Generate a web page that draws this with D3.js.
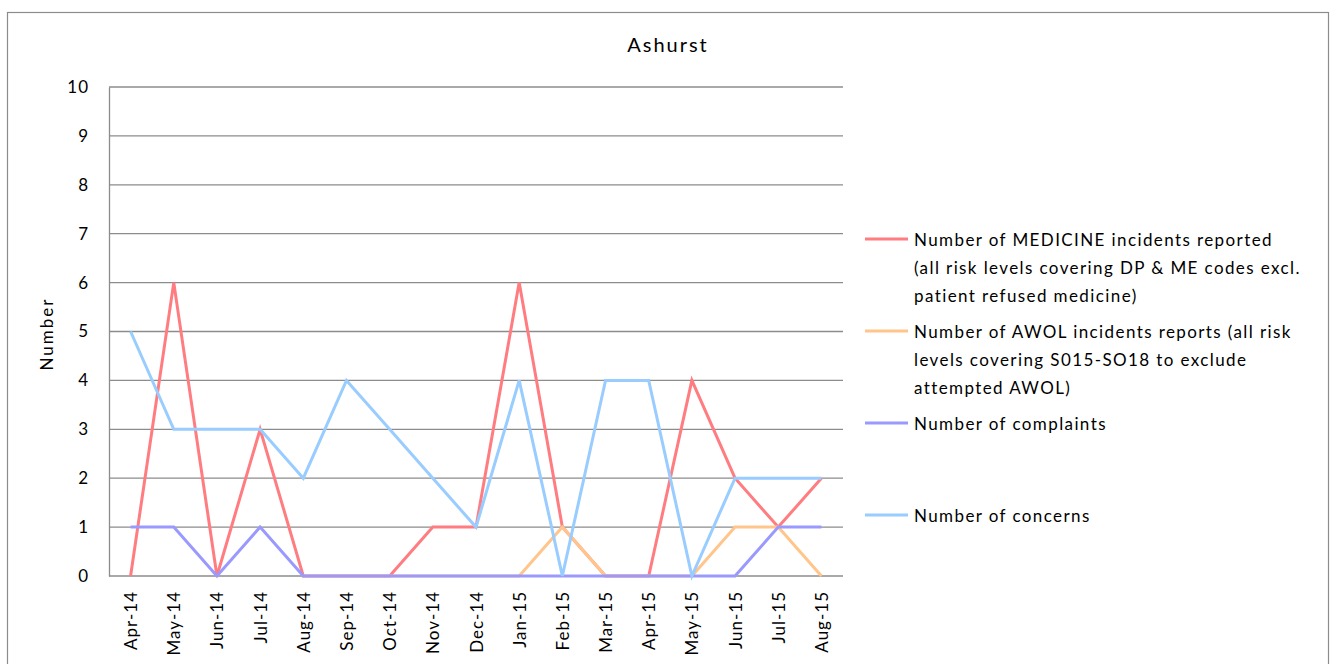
<!DOCTYPE html>
<html>
<head>
<meta charset="utf-8">
<script src="https://cdn.jsdelivr.net/npm/d3@7"></script>
<style>
  body { margin: 0; background: #fff; }
  svg { font-family: Lato, "Open Sans", sans-serif; }
</style>
</head>
<body>
<div id="chart"></div>
<script>
// Data
const months = ['Apr-14', 'May-14', 'Jun-14', 'Jul-14', 'Aug-14', 'Sep-14', 'Oct-14', 'Nov-14', 'Dec-14',
  'Jan-15', 'Feb-15', 'Mar-15', 'Apr-15', 'May-15', 'Jun-15', 'Jul-15', 'Aug-15'];
const medicine = [0, 6, 0, 3, 0, 0, 0, 1, 1, 6, 1, 0, 0, 4, 2, 1, 2];
// no AWOL line is drawn for the first months
const awol = [null, null, null, null, 0, 0, 0, 0, 0, 0, 1, 0, 0, 0, 1, 1, 0];
const complaints = [1, 1, 0, 1, 0, 0, 0, 0, 0, 0, 0, 0, 0, 0, 0, 1, 1];
const concerns = [5, 3, 3, 3, 2, 4, 3, 2, 1, 4, 0, 4, 4, 0, 2, 2, 2];
const yTicks = [0, 1, 2, 3, 4, 5, 6, 7, 8, 9, 10];

const series = [
  { label: ['Number of MEDICINE incidents reported', '(all risk levels covering DP & ME codes excl.', 'patient refused medicine)'], values: medicine, color: '#ff7c80' },
  { label: ['Number of AWOL incidents reports (all risk', 'levels covering S015-SO18 to exclude', 'attempted AWOL)'], values: awol, color: '#ffc58a' },
  { label: ['Number of complaints'], values: complaints, color: '#9999ff' },
  { label: ['Number of concerns'], values: concerns, color: '#99ccff' }
];

const W = 1339, H = 664;
const plot = { left: 109, right: 843, top: 87, bottom: 576 };

const svg = d3.select('#chart').append('svg')
  .attr('width', W)
  .attr('height', H);

// outer chart border
svg.append('rect')
  .attr('x', 7.5).attr('y', 12.5)
  .attr('width', 1321).attr('height', 700)
  .attr('fill', 'none')
  .attr('stroke', '#8c8c8c')
  .attr('stroke-width', 1.2);

svg.append('text')
  .attr('x', 668).attr('y', 52)
  .attr('text-anchor', 'middle')
  .style('font-size', '20px')
  .style('letter-spacing', '2px')
  .text('Ashurst');

const x = d3.scaleBand()
  .domain(months)
  .range([plot.left, plot.right]);

const y = d3.scaleLinear()
  .domain([0, 10])
  .range([plot.bottom, plot.top]);

// gridlines
svg.append('g')
  .selectAll('line')
  .data(yTicks)
  .enter()
  .append('line')
  .attr('x1', plot.left).attr('x2', plot.right)
  .attr('y1', d => y(d)).attr('y2', d => y(d))
  .attr('stroke', '#8c8c8c')
  .attr('stroke-width', 1.3);

// y axis
const yAxis = svg.append('g')
  .attr('transform', `translate(${plot.left},0)`)
  .call(d3.axisLeft(y).tickValues(yTicks).tickSize(0).tickPadding(20));
yAxis.select('.domain').attr('stroke', '#8c8c8c').attr('stroke-width', 1.3);
yAxis.selectAll('text')
  .style('font-size', '17px')
  .style('letter-spacing', '1px')
  .style('font-family', 'Lato, sans-serif')
  .attr('fill', '#000');

svg.append('text')
  .attr('transform', 'translate(53,334) rotate(-90)')
  .attr('text-anchor', 'middle')
  .style('font-size', '17px')
  .style('letter-spacing', '2px')
  .text('Number');

// x axis
const xAxis = svg.append('g')
  .attr('transform', `translate(0,${plot.bottom})`)
  .call(d3.axisBottom(x).tickSize(0).tickPadding(0));
xAxis.select('.domain').remove();
xAxis.selectAll('text')
  .style('font-size', '17px')
  .style('letter-spacing', '1px')
  .style('font-family', 'Lato, sans-serif')
  .attr('fill', '#000')
  .attr('text-anchor', 'end')
  .attr('dy', null)
  .attr('transform', 'translate(0,15) rotate(-90)')
  .attr('x', 0).attr('y', 0)
  .attr('dominant-baseline', 'central');

// lines
const line = d3.line()
  .defined(d => d !== null)
  .x((d, i) => x(months[i]) + x.bandwidth() / 2)
  .y(d => y(d));

svg.append('g')
  .selectAll('path')
  .data(series)
  .enter()
  .append('path')
  .attr('d', d => line(d.values))
  .attr('fill', 'none')
  .attr('stroke', d => d.color)
  .attr('stroke-width', 3)
  .attr('stroke-linejoin', 'miter');

// legend
const legendY = [239, 331, 423, 515];
const legend = svg.append('g')
  .selectAll('g')
  .data(series)
  .enter()
  .append('g')
  .attr('transform', (d, i) => `translate(865,${legendY[i]})`);

legend.append('line')
  .attr('x1', 0).attr('x2', 43)
  .attr('stroke', d => d.color)
  .attr('stroke-width', 3);

legend.append('text')
  .attr('x', 49)
  .style('font-size', '17px')
  .style('letter-spacing', '1.4px')
  .selectAll('tspan')
  .data(d => d.label)
  .enter()
  .append('tspan')
  .attr('x', 49)
  .attr('y', (d, i) => i * 28)
  .attr('dominant-baseline', 'central')
  .text(d => d);
</script>
</body>
</html>
